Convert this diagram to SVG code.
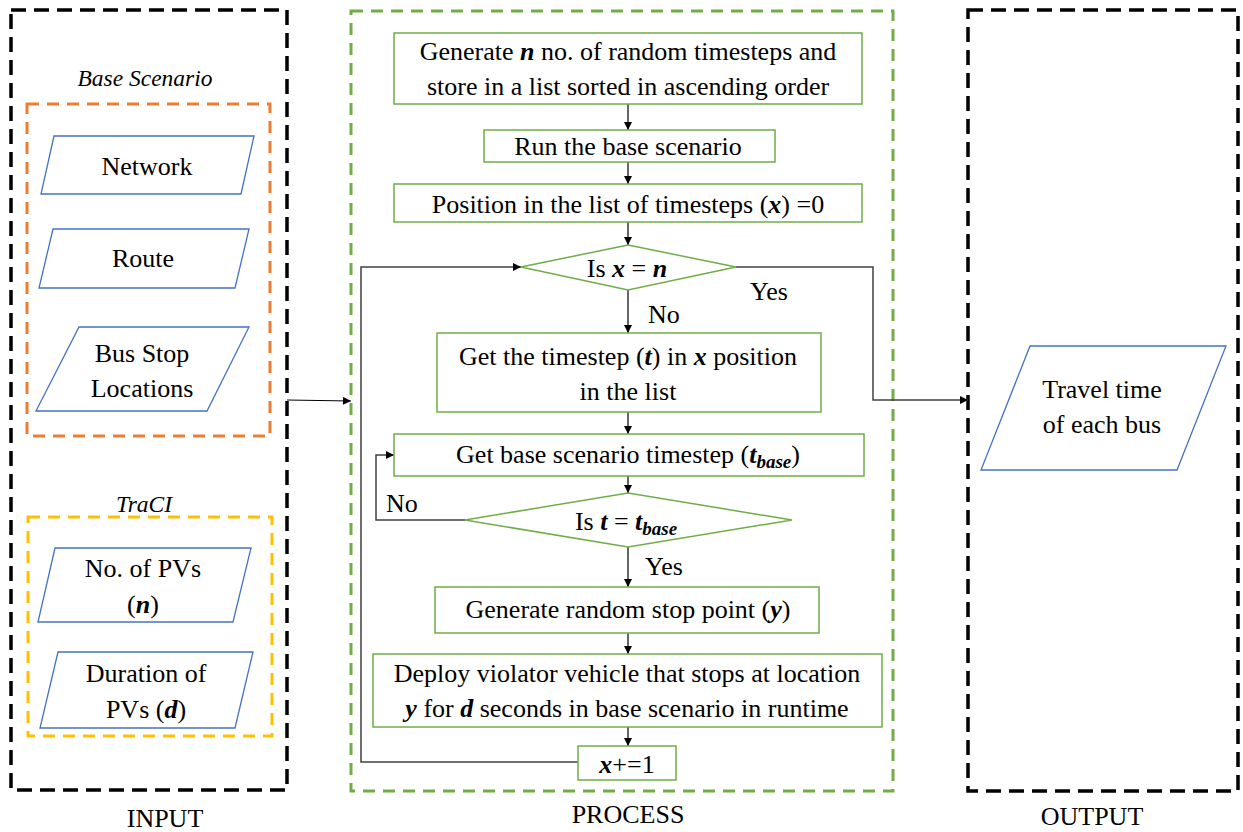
<svg xmlns="http://www.w3.org/2000/svg" width="1243" height="832" viewBox="0 0 1243 832">
<defs>
<marker id="arr" viewBox="0 0 10 10" refX="10" refY="5" markerWidth="9" markerHeight="8" markerUnits="userSpaceOnUse" orient="auto">
<path d="M0,0 L10,5 L0,10 z" fill="#000"/>
</marker>
</defs>
<style>
.c{text-anchor:middle}
.grp-black{fill:none;stroke:#000;stroke-width:3.5;stroke-dasharray:15 8}
.grp-green{fill:none;stroke:#70AD47;stroke-width:3;stroke-dasharray:12 8}
.grp-orange{fill:none;stroke:#ED7D31;stroke-width:3;stroke-dasharray:12 8}
.grp-yellow{fill:none;stroke:#FFC000;stroke-width:3;stroke-dasharray:12 8}
.box{fill:#fff;stroke:#70AD47;stroke-width:1.5}
.para{fill:#fff;stroke:#4472C4;stroke-width:1.3}
.con{fill:none;stroke:#000;stroke-width:1.2}
.loop{fill:none;stroke:#404040;stroke-width:1.5}
</style>

<g id="containers">
<rect class="grp-black" x="11" y="10" width="276" height="780"/>
<rect class="grp-green" x="351" y="11" width="542" height="780"/>
<rect class="grp-black" x="968" y="10" width="270" height="781"/>
<rect class="grp-orange" x="27" y="104" width="243" height="332"/>
<rect class="grp-yellow" x="28" y="517" width="244" height="219"/>
<text class="c" font-family="Liberation Serif" font-size="23.5" font-style="italic" x="145" y="86">Base Scenario</text>
<text class="c" font-family="Liberation Serif" font-size="23.5" font-style="italic" x="144" y="512">TraCI</text>
<text class="c" font-family="Liberation Serif" font-size="26" x="165" y="827">INPUT</text>
<text class="c" font-family="Liberation Serif" font-size="26" x="628" y="823">PROCESS</text>
<text class="c" font-family="Liberation Serif" font-size="26" x="1092" y="825">OUTPUT</text>
</g>

<g id="connectors">
<line class="con" x1="287" y1="400" x2="351" y2="401" marker-end="url(#arr)"/>
<line class="con" x1="628" y1="104" x2="628" y2="130" marker-end="url(#arr)"/>
<line class="con" x1="628" y1="162" x2="628" y2="184" marker-end="url(#arr)"/>
<line class="con" x1="628" y1="222" x2="628" y2="245" marker-end="url(#arr)"/>
<line class="con" x1="628" y1="290" x2="628" y2="333" marker-end="url(#arr)"/>
<line class="con" x1="628" y1="412" x2="628" y2="434" marker-end="url(#arr)"/>
<line class="con" x1="628" y1="476" x2="628" y2="493" marker-end="url(#arr)"/>
<line class="con" x1="628" y1="547" x2="628" y2="587" marker-end="url(#arr)"/>
<line class="con" x1="628" y1="633" x2="628" y2="654" marker-end="url(#arr)"/>
<line class="con" x1="628" y1="727" x2="628" y2="746" marker-end="url(#arr)"/>
<polyline class="loop" points="578,762 361,762 361,267 521,267" marker-end="url(#arr)"/>
<polyline class="loop" points="736,267 873,267 873,400 968,400" marker-end="url(#arr)"/>
<polyline class="loop" points="465,520 376,520 376,455 394,455" marker-end="url(#arr)"/>
<text font-family="Liberation Serif" font-size="26" x="750" y="300">Yes</text>
<text font-family="Liberation Serif" font-size="26" x="648" y="323">No</text>
<text font-family="Liberation Serif" font-size="26" x="386" y="512">No</text>
<text font-family="Liberation Serif" font-size="26" x="645" y="575">Yes</text>
</g>

<g id="network">
<polygon class="para" points="54,136 254,136 241,194 41,194"/>
<text class="c" font-family="Liberation Serif" font-size="26" x="147" y="175">Network</text>
</g>
<g id="route">
<polygon class="para" points="53,229 249,229 235,288 39,288"/>
<text class="c" font-family="Liberation Serif" font-size="26" x="143" y="267">Route</text>
</g>
<g id="busstops">
<polygon class="para" points="79,327 249,327 207,411 36,411"/>
<text class="c" font-family="Liberation Serif" font-size="26" x="142" y="362">Bus Stop</text>
<text class="c" font-family="Liberation Serif" font-size="26" x="142" y="397">Locations</text>
</g>
<g id="numpvs">
<polygon class="para" points="55,548 251,548 233,622 38,622"/>
<text class="c" font-family="Liberation Serif" font-size="26" x="143" y="577">No. of PVs</text>
<text class="c" font-family="Liberation Serif" font-size="26" x="143" y="613">(<tspan font-weight="bold" font-style="italic">n</tspan>)</text>
</g>
<g id="durpvs">
<polygon class="para" points="58,652 253,652 235,728 40,728"/>
<text class="c" font-family="Liberation Serif" font-size="26" x="146" y="682">Duration of</text>
<text class="c" font-family="Liberation Serif" font-size="26" x="146" y="718">PVs (<tspan font-weight="bold" font-style="italic">d</tspan>)</text>
</g>

<g id="gen-timesteps">
<rect class="box" x="394" y="33" width="468" height="71"/>
<text class="c" font-family="Liberation Serif" font-size="26" x="628" y="60">Generate <tspan font-weight="bold" font-style="italic">n</tspan> no. of random timesteps and</text>
<text class="c" font-family="Liberation Serif" font-size="26" x="628" y="95">store in a list sorted in ascending order</text>
</g>
<g id="run-base">
<rect class="box" x="484" y="130" width="291" height="32"/>
<text class="c" font-family="Liberation Serif" font-size="26" x="628" y="155">Run the base scenario</text>
</g>
<g id="position">
<rect class="box" x="394" y="184" width="468" height="38"/>
<text class="c" font-family="Liberation Serif" font-size="26" x="628" y="213">Position in the list of timesteps (<tspan font-weight="bold" font-style="italic">x</tspan>) =0</text>
</g>
<g id="is-x-n">
<polygon class="box" points="628,245 736,267 628,290 521,267"/>
<text class="c" font-family="Liberation Serif" font-size="26" x="627" y="277">Is <tspan font-weight="bold" font-style="italic">x</tspan> = <tspan font-weight="bold" font-style="italic">n</tspan></text>
</g>
<g id="get-timestep">
<rect class="box" x="437" y="333" width="384" height="79"/>
<text class="c" font-family="Liberation Serif" font-size="26" x="628" y="365">Get the timestep (<tspan font-weight="bold" font-style="italic">t</tspan>) in <tspan font-weight="bold" font-style="italic">x</tspan> position</text>
<text class="c" font-family="Liberation Serif" font-size="26" x="628" y="400">in the list</text>
</g>
<g id="get-base">
<rect class="box" x="394" y="434" width="470" height="42"/>
<text class="c" font-family="Liberation Serif" font-size="26" x="628" y="463">Get base scenario timestep (<tspan font-weight="bold" font-style="italic">t</tspan><tspan font-weight="bold" font-style="italic" font-size="19" dy="5">base</tspan><tspan dy="-5">)</tspan></text>
</g>
<g id="is-t-tbase">
<polygon class="box" points="628,493 792,520 628,547 465,520"/>
<text class="c" font-family="Liberation Serif" font-size="26" x="626" y="530">Is <tspan font-weight="bold" font-style="italic">t</tspan> = <tspan font-weight="bold" font-style="italic">t</tspan><tspan font-weight="bold" font-style="italic" font-size="19" dy="5">base</tspan></text>
</g>
<g id="gen-stop">
<rect class="box" x="435" y="587" width="384" height="46"/>
<text class="c" font-family="Liberation Serif" font-size="26" x="628" y="618">Generate random stop point (<tspan font-weight="bold" font-style="italic">y</tspan>)</text>
</g>
<g id="deploy">
<rect class="box" x="373" y="654" width="509" height="73"/>
<text class="c" font-family="Liberation Serif" font-size="26" x="627" y="682">Deploy violator vehicle that stops at location</text>
<text class="c" font-family="Liberation Serif" font-size="26" x="627" y="717"><tspan font-weight="bold" font-style="italic">y</tspan> for <tspan font-weight="bold" font-style="italic">d</tspan> seconds in base scenario in runtime</text>
</g>
<g id="increment">
<rect class="box" x="578" y="746" width="98" height="34"/>
<text class="c" font-family="Liberation Serif" font-size="26" x="627" y="773"><tspan font-weight="bold" font-style="italic">x</tspan>+=1</text>
</g>

<g id="travel-time">
<polygon class="para" points="1030,346 1226,346 1177,470 981,470"/>
<text class="c" font-family="Liberation Serif" font-size="26" x="1102" y="398">Travel time</text>
<text class="c" font-family="Liberation Serif" font-size="26" x="1102" y="433">of each bus</text>
</g>
</svg>
